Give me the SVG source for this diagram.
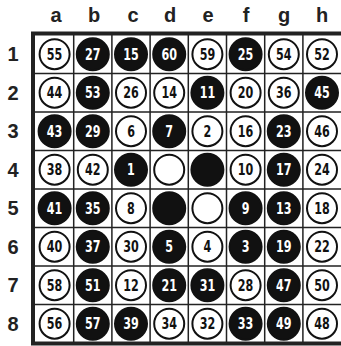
<svg xmlns="http://www.w3.org/2000/svg" width="341" height="346" viewBox="0 0 341 346">
<style>
.lbl{font-family:"Liberation Sans",Arial,sans-serif;font-weight:bold;font-size:20px;fill:#222;text-anchor:middle}
.w{fill:#fff;stroke:#111;stroke-width:2}
.b{fill:#111;stroke:#111;stroke-width:2}
.n{font-family:"DejaVu Sans Condensed","Liberation Sans",sans-serif;font-weight:bold;font-size:15.5px;text-anchor:middle;transform:scaleX(0.8);transform-box:fill-box;transform-origin:center}
.nw{fill:#111}
.nb{fill:#fff}
.grid{stroke:#222;stroke-width:1.5;fill:none}
</style>
<rect width="341" height="346" fill="#fff"/>
<g id="labels">
<text class="lbl" x="56" y="22">a</text><text class="lbl" x="94" y="22">b</text><text class="lbl" x="133" y="22">c</text><text class="lbl" x="170" y="22">d</text><text class="lbl" x="208" y="22">e</text><text class="lbl" x="246" y="22">f</text><text class="lbl" x="284" y="22">g</text><text class="lbl" x="322" y="22">h</text>
<text class="lbl" x="13" y="61">1</text><text class="lbl" x="13" y="100">2</text><text class="lbl" x="13" y="138">3</text><text class="lbl" x="13" y="177">4</text><text class="lbl" x="13" y="215">5</text><text class="lbl" x="13" y="254">6</text><text class="lbl" x="13" y="292">7</text><text class="lbl" x="13" y="331">8</text>
</g>
<g id="board" class="grid">
<path d="M73.7 35V343M111.9 35V343M150.1 35V343M188.3 35V343M226.5 35V343M264.7 35V343M302.9 35V343M35 73.5H341M35 112H341M35 150.5H341M35 189H341M35 227.5H341M35 266H341M35 304.5H341"/>
<rect x="33" y="33.5" width="310" height="310" stroke-width="4"/>
</g>
<g id="r1">
<g id="a1"><circle class="w" cx="54.6" cy="54.2" r="15"/><text class="n nw" x="54.6" y="59.8">55</text></g>
<g id="b1"><circle class="b" cx="92.8" cy="54.2" r="16"/><text class="n nb" x="92.8" y="59.8">27</text></g>
<g id="c1"><circle class="b" cx="131" cy="54.2" r="16"/><text class="n nb" x="131" y="59.8">15</text></g>
<g id="d1"><circle class="b" cx="169.2" cy="54.2" r="16"/><text class="n nb" x="169.2" y="59.8">60</text></g>
<g id="e1"><circle class="w" cx="207.4" cy="54.2" r="15"/><text class="n nw" x="207.4" y="59.8">59</text></g>
<g id="f1"><circle class="b" cx="245.6" cy="54.2" r="16"/><text class="n nb" x="245.6" y="59.8">25</text></g>
<g id="g1"><circle class="w" cx="283.8" cy="54.2" r="15"/><text class="n nw" x="283.8" y="59.8">54</text></g>
<g id="h1"><circle class="w" cx="322" cy="54.2" r="15"/><text class="n nw" x="322" y="59.8">52</text></g>
</g>
<g id="r2">
<g id="a2"><circle class="w" cx="54.6" cy="92.7" r="15"/><text class="n nw" x="54.6" y="98.3">44</text></g>
<g id="b2"><circle class="b" cx="92.8" cy="92.7" r="16"/><text class="n nb" x="92.8" y="98.3">53</text></g>
<g id="c2"><circle class="w" cx="131" cy="92.7" r="15"/><text class="n nw" x="131" y="98.3">26</text></g>
<g id="d2"><circle class="w" cx="169.2" cy="92.7" r="15"/><text class="n nw" x="169.2" y="98.3">14</text></g>
<g id="e2"><circle class="b" cx="207.4" cy="92.7" r="16"/><text class="n nb" x="207.4" y="98.3">11</text></g>
<g id="f2"><circle class="w" cx="245.6" cy="92.7" r="15"/><text class="n nw" x="245.6" y="98.3">20</text></g>
<g id="g2"><circle class="w" cx="283.8" cy="92.7" r="15"/><text class="n nw" x="283.8" y="98.3">36</text></g>
<g id="h2"><circle class="b" cx="322" cy="92.7" r="16"/><text class="n nb" x="322" y="98.3">45</text></g>
</g>
<g id="r3">
<g id="a3"><circle class="b" cx="54.6" cy="131.2" r="16"/><text class="n nb" x="54.6" y="136.8">43</text></g>
<g id="b3"><circle class="b" cx="92.8" cy="131.2" r="16"/><text class="n nb" x="92.8" y="136.8">29</text></g>
<g id="c3"><circle class="w" cx="131" cy="131.2" r="15"/><text class="n nw" x="131" y="136.8">6</text></g>
<g id="d3"><circle class="b" cx="169.2" cy="131.2" r="16"/><text class="n nb" x="169.2" y="136.8">7</text></g>
<g id="e3"><circle class="w" cx="207.4" cy="131.2" r="15"/><text class="n nw" x="207.4" y="136.8">2</text></g>
<g id="f3"><circle class="w" cx="245.6" cy="131.2" r="15"/><text class="n nw" x="245.6" y="136.8">16</text></g>
<g id="g3"><circle class="b" cx="283.8" cy="131.2" r="16"/><text class="n nb" x="283.8" y="136.8">23</text></g>
<g id="h3"><circle class="w" cx="322" cy="131.2" r="15"/><text class="n nw" x="322" y="136.8">46</text></g>
</g>
<g id="r4">
<g id="a4"><circle class="w" cx="54.6" cy="169.7" r="15"/><text class="n nw" x="54.6" y="175.3">38</text></g>
<g id="b4"><circle class="w" cx="92.8" cy="169.7" r="15"/><text class="n nw" x="92.8" y="175.3">42</text></g>
<g id="c4"><circle class="b" cx="131" cy="169.7" r="16"/><text class="n nb" x="131" y="175.3">1</text></g>
<g id="d4"><circle class="w" cx="169.2" cy="169.7" r="15"/></g>
<g id="e4"><circle class="b" cx="207.4" cy="169.7" r="16"/></g>
<g id="f4"><circle class="w" cx="245.6" cy="169.7" r="15"/><text class="n nw" x="245.6" y="175.3">10</text></g>
<g id="g4"><circle class="b" cx="283.8" cy="169.7" r="16"/><text class="n nb" x="283.8" y="175.3">17</text></g>
<g id="h4"><circle class="w" cx="322" cy="169.7" r="15"/><text class="n nw" x="322" y="175.3">24</text></g>
</g>
<g id="r5">
<g id="a5"><circle class="b" cx="54.6" cy="208.2" r="16"/><text class="n nb" x="54.6" y="213.8">41</text></g>
<g id="b5"><circle class="b" cx="92.8" cy="208.2" r="16"/><text class="n nb" x="92.8" y="213.8">35</text></g>
<g id="c5"><circle class="w" cx="131" cy="208.2" r="15"/><text class="n nw" x="131" y="213.8">8</text></g>
<g id="d5"><circle class="b" cx="169.2" cy="208.2" r="16"/></g>
<g id="e5"><circle class="w" cx="207.4" cy="208.2" r="15"/></g>
<g id="f5"><circle class="b" cx="245.6" cy="208.2" r="16"/><text class="n nb" x="245.6" y="213.8">9</text></g>
<g id="g5"><circle class="b" cx="283.8" cy="208.2" r="16"/><text class="n nb" x="283.8" y="213.8">13</text></g>
<g id="h5"><circle class="w" cx="322" cy="208.2" r="15"/><text class="n nw" x="322" y="213.8">18</text></g>
</g>
<g id="r6">
<g id="a6"><circle class="w" cx="54.6" cy="246.7" r="15"/><text class="n nw" x="54.6" y="252.3">40</text></g>
<g id="b6"><circle class="b" cx="92.8" cy="246.7" r="16"/><text class="n nb" x="92.8" y="252.3">37</text></g>
<g id="c6"><circle class="w" cx="131" cy="246.7" r="15"/><text class="n nw" x="131" y="252.3">30</text></g>
<g id="d6"><circle class="b" cx="169.2" cy="246.7" r="16"/><text class="n nb" x="169.2" y="252.3">5</text></g>
<g id="e6"><circle class="w" cx="207.4" cy="246.7" r="15"/><text class="n nw" x="207.4" y="252.3">4</text></g>
<g id="f6"><circle class="b" cx="245.6" cy="246.7" r="16"/><text class="n nb" x="245.6" y="252.3">3</text></g>
<g id="g6"><circle class="b" cx="283.8" cy="246.7" r="16"/><text class="n nb" x="283.8" y="252.3">19</text></g>
<g id="h6"><circle class="w" cx="322" cy="246.7" r="15"/><text class="n nw" x="322" y="252.3">22</text></g>
</g>
<g id="r7">
<g id="a7"><circle class="w" cx="54.6" cy="285.2" r="15"/><text class="n nw" x="54.6" y="290.8">58</text></g>
<g id="b7"><circle class="b" cx="92.8" cy="285.2" r="16"/><text class="n nb" x="92.8" y="290.8">51</text></g>
<g id="c7"><circle class="w" cx="131" cy="285.2" r="15"/><text class="n nw" x="131" y="290.8">12</text></g>
<g id="d7"><circle class="b" cx="169.2" cy="285.2" r="16"/><text class="n nb" x="169.2" y="290.8">21</text></g>
<g id="e7"><circle class="b" cx="207.4" cy="285.2" r="16"/><text class="n nb" x="207.4" y="290.8">31</text></g>
<g id="f7"><circle class="w" cx="245.6" cy="285.2" r="15"/><text class="n nw" x="245.6" y="290.8">28</text></g>
<g id="g7"><circle class="b" cx="283.8" cy="285.2" r="16"/><text class="n nb" x="283.8" y="290.8">47</text></g>
<g id="h7"><circle class="w" cx="322" cy="285.2" r="15"/><text class="n nw" x="322" y="290.8">50</text></g>
</g>
<g id="r8">
<g id="a8"><circle class="w" cx="54.6" cy="323.7" r="15"/><text class="n nw" x="54.6" y="329.3">56</text></g>
<g id="b8"><circle class="b" cx="92.8" cy="323.7" r="16"/><text class="n nb" x="92.8" y="329.3">57</text></g>
<g id="c8"><circle class="b" cx="131" cy="323.7" r="16"/><text class="n nb" x="131" y="329.3">39</text></g>
<g id="d8"><circle class="w" cx="169.2" cy="323.7" r="15"/><text class="n nw" x="169.2" y="329.3">34</text></g>
<g id="e8"><circle class="w" cx="207.4" cy="323.7" r="15"/><text class="n nw" x="207.4" y="329.3">32</text></g>
<g id="f8"><circle class="b" cx="245.6" cy="323.7" r="16"/><text class="n nb" x="245.6" y="329.3">33</text></g>
<g id="g8"><circle class="b" cx="283.8" cy="323.7" r="16"/><text class="n nb" x="283.8" y="329.3">49</text></g>
<g id="h8"><circle class="w" cx="322" cy="323.7" r="15"/><text class="n nw" x="322" y="329.3">48</text></g>
</g>
</svg>
